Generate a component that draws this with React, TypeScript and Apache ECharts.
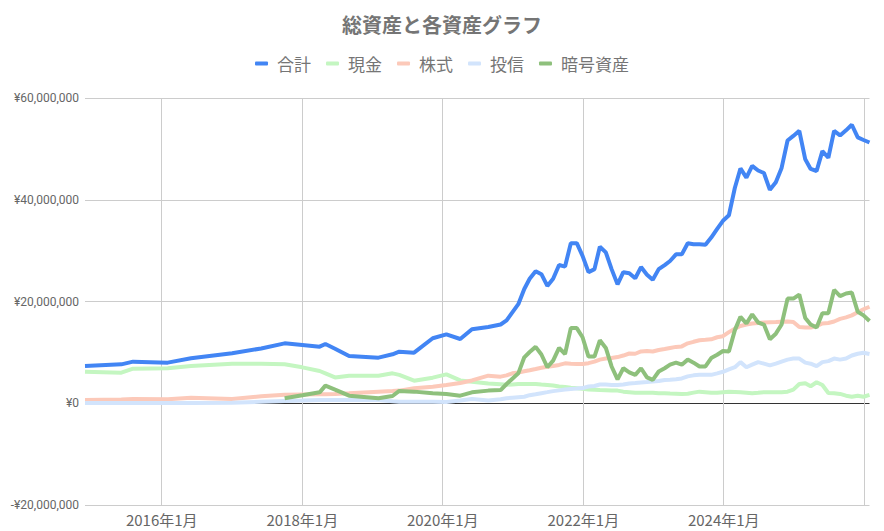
import React, { useEffect, useRef } from 'react';
import * as echarts from 'echarts';

const dates = [
  '2014-11-28', '2015-06-05', '2015-08-05', '2016-02-01', '2016-06-01', '2017-01-01', '2017-06-01',
  '2017-10-01', '2018-01-01', '2018-04-01', '2018-05-01', '2018-06-20', '2018-09-01', '2019-02-01',
  '2019-04-15', '2019-05-20', '2019-08-05', '2019-11-10', '2020-01-20', '2020-04-01', '2020-06-01',
  '2020-08-25',
  '2020-10-28', '2020-11-28', '2020-12-28',
  '2021-01-28', '2021-02-28', '2021-03-28', '2021-04-28', '2021-05-28', '2021-06-28',
  '2021-07-28', '2021-08-28', '2021-09-28', '2021-10-28', '2021-11-28', '2021-12-28',
  '2022-01-28', '2022-02-28', '2022-03-28', '2022-04-28', '2022-05-28', '2022-06-28',
  '2022-07-28', '2022-08-28', '2022-09-28', '2022-10-28', '2022-11-28', '2022-12-28',
  '2023-01-28', '2023-02-28', '2023-03-28', '2023-04-28', '2023-05-28', '2023-06-28',
  '2023-07-28', '2023-08-28', '2023-09-28', '2023-10-28', '2023-11-28', '2023-12-28',
  '2024-01-28', '2024-02-28', '2024-03-28', '2024-04-28', '2024-05-28', '2024-06-28',
  '2024-07-28', '2024-08-28', '2024-09-28', '2024-10-28', '2024-11-28', '2024-12-28',
  '2025-01-28', '2025-02-28', '2025-03-28', '2025-04-28', '2025-05-28', '2025-06-28',
  '2025-07-28', '2025-08-28', '2025-09-28', '2025-10-28', '2025-11-28', '2025-12-28',
  '2026-01-28',
];

// values in millions of yen
const total = [
  7.34, 7.67, 8.2, 8.0, 8.85, 9.85, 10.8, 11.8, 11.47, 11.15, 11.67, 10.75, 9.3, 8.98, 9.64, 10.16, 9.97, 12.8, 13.57, 12.65, 14.56, 15.0,
  15.5, 16.3, 17.9,
  19.5, 22.5, 24.5, 26.0, 25.4, 23.1, 24.5, 27.2, 26.9, 31.5, 31.5, 29.0,
  25.8, 26.4, 30.8, 29.7, 26.4, 23.4, 25.8, 25.6, 24.6, 26.8, 25.3, 24.3,
  26.4, 27.2, 28.0, 29.3, 29.3, 31.5, 31.3, 31.3, 31.2, 32.6, 34.3, 35.9,
  37.0, 42.4, 46.2, 44.4, 46.7, 45.8, 45.3, 42.0, 43.5, 46.3, 51.7, 52.6,
  53.6, 48.0, 46.1, 45.7, 49.6, 48.3, 53.6, 52.7, 53.7, 54.8, 52.3, 51.8,
  51.3,
];

const cash = [
  6.23, 6.03, 6.82, 6.9, 7.34, 7.8, 7.8, 7.67, 7.08, 6.36, 5.9, 5.1, 5.44, 5.44, 5.9, 5.6, 4.46, 5.05, 5.7, 4.5, 4.25, 3.9,
  3.75, 3.67, 3.7,
  3.8, 3.8, 3.8, 3.8, 3.7, 3.6, 3.5, 3.3, 3.2, 3.05, 2.95, 2.85,
  2.7, 2.65, 2.6, 2.55, 2.5, 2.5, 2.3, 2.2, 2.1, 2.1, 2.1, 2.1,
  2.0, 2.0, 1.95, 1.9, 1.85, 1.9, 2.1, 2.3, 2.2, 2.1, 2.1, 2.2,
  2.3, 2.25, 2.2, 2.1, 2.0, 2.1, 2.2, 2.2, 2.2, 2.2, 2.3, 2.7,
  3.8, 3.95, 3.36, 4.15, 3.6, 2.04, 2.0, 1.85, 1.5, 1.3, 1.5, 1.3,
  1.65,
];

const stocks = [
  0.66, 0.75, 0.85, 0.79, 1.1, 0.85, 1.4, 1.7, 1.75, 1.77, 1.8, 1.85, 1.97, 2.3, 2.43, 2.5, 2.95, 3.28, 3.6, 4.0, 4.5, 5.44,
  5.25, 5.5, 5.9,
  6.05, 6.3, 6.5, 6.75, 7.0, 7.2, 7.35, 7.55, 7.87, 7.8, 7.74, 7.74,
  7.9, 8.2, 8.6, 8.8, 8.9, 9.1, 9.4, 9.8, 9.75, 10.2, 10.3, 10.2,
  10.5, 10.7, 10.9, 11.1, 11.2, 11.8, 12.1, 12.4, 12.5, 12.6, 13.0, 13.2,
  14.0, 14.7, 15.2, 15.5, 15.7, 15.8, 15.9, 15.95, 16.0, 16.05, 16.1, 16.0,
  15.0, 14.9, 14.9, 15.2, 15.7, 15.8, 16.1, 16.6, 16.9, 17.3, 17.9, 18.5,
  19.0,
];

const funds = [
  0.05, 0.05, 0.05, 0.05, 0.05, 0.1, 0.3, 0.45, 0.55, 0.66, 0.66, 0.66, 0.66, 0.66, 0.4, 0.33, 0.33, 0.3, 0.25, 0.55, 0.85, 0.55,
  0.8, 1.0, 1.1,
  1.2, 1.3, 1.6, 1.8, 2.0, 2.2, 2.4, 2.55, 2.7, 2.8, 2.9, 3.0,
  3.3, 3.4, 3.7, 3.7, 3.6, 3.6, 3.7, 3.9, 4.0, 4.1, 4.2, 4.3,
  4.4, 4.6, 4.65, 4.74, 4.9, 5.3, 5.5, 5.6, 5.6, 5.6, 5.9, 6.2,
  6.66, 7.1, 8.1, 7.1, 7.6, 8.1, 7.8, 7.45, 7.8, 8.2, 8.6, 8.8,
  8.8, 8.0, 7.8, 7.3, 8.1, 8.3, 8.8, 8.6, 8.8, 9.4, 9.75, 9.95,
  9.7,
];

const crypto = [
  null, null, null, null, null, null, null, 0.98, 1.57, 2.16, 3.48, 2.7, 1.5, 0.98, 1.44, 2.43, 2.3, 1.97, 1.84, 1.5, 2.16, 2.5,
  2.6, 3.8, 4.85,
  5.9, 9.05, 10.1, 11.1, 9.6, 7.1, 8.4, 10.9, 9.7, 14.8, 14.8, 13.0,
  9.2, 9.2, 12.4, 10.9, 7.25, 4.7, 6.9, 6.1, 5.6, 6.9, 5.1, 4.6,
  6.26, 6.9, 7.6, 8.0, 7.6, 8.6, 8.0, 7.25, 7.25, 8.9, 9.55, 10.3,
  10.2, 14.4, 17.0, 15.7, 17.5, 15.9, 15.5, 12.6, 13.7, 15.5, 20.6, 20.6,
  21.4, 16.8, 15.5, 14.9, 17.7, 17.7, 22.3, 21.1, 21.6, 21.8, 18.0, 17.3,
  16.2,
];

const seriesNames = ['合計', '現金', '株式', '投信', '暗号資産'];
const seriesColors = ['#4285f4', '#c4f6c1', '#fcc9b9', '#d2e4fc', '#8ec07c'];
const xLabelDates = ['2016-01-01', '2018-01-01', '2020-01-01', '2022-01-01', '2024-01-01'];
const xGridDates = ['2016-01-01', '2018-01-01', '2020-01-01', '2022-01-01', '2024-01-01', '2026-01-01'];
const xMin = '2014-11-28';
const xMax = '2026-01-28';
const yMin = -20000000;
const yMax = 60000000;
const yStep = 20000000;

const toTs = (d: string) => new Date(d + 'T00:00:00').getTime();

export default function App() {
  const ref = useRef<HTMLDivElement>(null);
  useEffect(() => {
    if (!ref.current) return;
    const chart = echarts.init(ref.current, null, { renderer: 'svg' });
    const all = [total, cash, stocks, funds, crypto];
    const series = all.map((arr, si) => ({
      name: seriesNames[si],
      type: 'line',
      showSymbol: false,
      symbol: 'none',
      data: dates
        .map((d, i) => (arr[i] == null ? null : [toTs(d), (arr[i] as number) * 1e6]))
        .filter((p) => p !== null),
      lineStyle: { width: 4, color: seriesColors[si] },
      itemStyle: { color: seriesColors[si] },
      emphasis: { disabled: true },
    }));
    const font = "'Noto Sans CJK JP', 'Noto Sans', sans-serif";
    chart.setOption({
      animation: false,
      textStyle: { fontFamily: font },
      title: {
        text: '総資産と各資産グラフ',
        left: 'center',
        top: 9,
        textStyle: { fontSize: 20, fontWeight: 'bold', color: '#757575', fontFamily: font },
      },
      legend: {
        data: seriesNames,
        top: 50,
        left: 'center',
        icon: 'roundRect',
        itemWidth: 13,
        itemHeight: 4,
        itemGap: 15,
        textStyle: { fontSize: 17, color: '#757575', fontFamily: font, padding: [0, 0, 0, 4] },
      },
      grid: { left: 85, right: 14.5, top: 98.3, bottom: 26, containLabel: false },
      xAxis: {
        type: 'value',
        min: toTs(xMin),
        max: toTs(xMax),
        axisLine: { show: false, onZero: false },
        axisTick: { show: false, customValues: xGridDates.map(toTs) },
        axisLabel: {
          customValues: xLabelDates.map(toTs),
          margin: 7,
          fontSize: 15,
          color: '#666666',
          fontFamily: "'Liberation Sans Narrow', 'Noto Sans CJK JP', sans-serif",
          formatter: (v: number) => {
            const d = new Date(v);
            return `${d.getFullYear()}年${d.getMonth() + 1}月`;
          },
        },
        splitLine: { show: true, lineStyle: { color: '#cccccc', width: 1 } },
      },
      yAxis: {
        type: 'value',
        min: yMin,
        max: yMax,
        interval: yStep,
        axisLine: { show: false },
        axisTick: { show: false },
        axisLabel: {
          margin: 6,
          fontSize: 12,
          color: '#666666',
          fontFamily: "Roboto, 'Noto Sans', sans-serif",
          formatter: (v: number) => (v < 0 ? '-' : '') + '¥' + Math.abs(v).toLocaleString('en-US'),
        },
        splitLine: {
          show: true,
          lineStyle: { color: ['#cccccc', '#333333', '#cccccc', '#cccccc', '#cccccc'], width: 1 },
        },
      },
      series,
    });
    return () => chart.dispose();
  }, []);
  return <div ref={ref} style={{ position: 'absolute', left: 0, top: 0, width: 884, height: 531 }} />;
}
